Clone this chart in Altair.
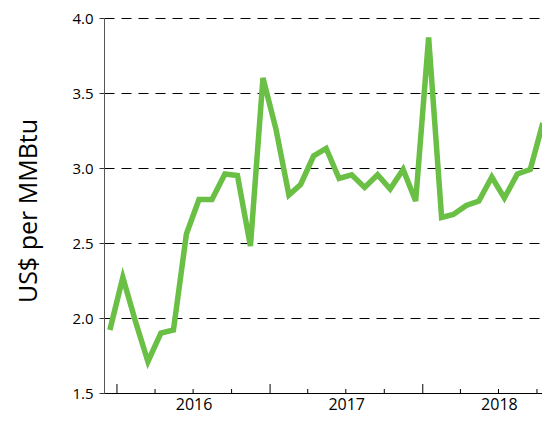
import altair as alt
import pandas as pd

months = [
    "2015-12", "2016-01", "2016-02", "2016-03", "2016-04", "2016-05", "2016-06",
    "2016-07", "2016-08", "2016-09", "2016-10", "2016-11", "2016-12",
    "2017-01", "2017-02", "2017-03", "2017-04", "2017-05", "2017-06",
    "2017-07", "2017-08", "2017-09", "2017-10", "2017-11", "2017-12",
    "2018-01", "2018-02", "2018-03", "2018-04", "2018-05", "2018-06",
    "2018-07", "2018-08", "2018-09", "2018-10",
]
prices = [
    1.92, 2.27, 1.97, 1.71, 1.90, 1.92, 2.56, 2.79, 2.79, 2.96, 2.95, 2.48, 3.60,
    3.26, 2.82, 2.89, 3.08, 3.13, 2.93, 2.955, 2.87, 2.955, 2.86, 2.99, 2.78,
    3.87, 2.67, 2.69, 2.75, 2.78, 2.94, 2.80, 2.96, 2.99, 3.30,
]
major_ticks = ["2016-01-01", "2017-01-01", "2018-01-01"]
minor_ticks = ["2016-04-01", "2016-07-01", "2016-10-01", "2017-04-01", "2017-07-01",
               "2017-10-01", "2018-04-01", "2018-07-01", "2018-10-01"]
year_labels = [2016, 2017, 2018]
y_ticks = [1.5, 2.0, 2.5, 3.0, 3.5, 4.0]

W, H = 438, 375
FONT = "Open Sans"

df = pd.DataFrame({"date": [m.replace("-", "/") + "/15" for m in months], "price": prices})
ticks_df = pd.DataFrame(
    {"date": [d.replace("-", "/") for d in major_ticks + minor_ticks],
     "len": [9] * len(major_ticks) + [4] * len(minor_ticks)}
)

x_scale = alt.Scale(domain=[alt.DateTime(year=2015, month=12, date=1),
                            alt.DateTime(year=2018, month=10, date=13)], nice=False)
y_scale = alt.Scale(domain=[1.5, 4.0], nice=False, zero=False)

line = alt.Chart(df).mark_line(
    color="#6abf45", strokeWidth=5.5, strokeJoin="miter", strokeMiterLimit=4, clip=False
).encode(
    x=alt.X("date:T", scale=x_scale, title=None,
            axis=alt.Axis(values=[alt.DateTime(year=y, month=7, date=2) for y in year_labels],
                          format="%Y", ticks=False, grid=False, domainColor="#000000",
                          domainWidth=1, labelFont=FONT, labelFontSize=16,
                          labelColor="#000000", labelPadding=3)),
    y=alt.Y("price:Q", scale=y_scale, title="US$ per MMBtu",
            axis=alt.Axis(values=y_ticks, format=".1f", tickSize=5, tickColor="#333333",
                          domainColor="#555555", labelFont=FONT, labelFontSize=15,
                          labelColor="#000000", labelPadding=6,
                          grid=True, gridColor="#000000", gridDash=[10, 7], gridWidth=1,
                          titleFont=FONT, titleFontSize=25, titleFontWeight="normal",
                          titleColor="#000000", titleAngle=270, titleAlign="center",
                          titleBaseline="bottom", titleX=-63, titleY=H / 2 + 5)),
)

xticks = alt.Chart(ticks_df).transform_calculate(
    top=f"{H} - datum.len"
).mark_rule(color="#000000", strokeWidth=1).encode(
    x=alt.X("date:T", scale=x_scale),
    y=alt.Y("top:Q", scale=alt.Scale(domain=[0, H], range=[0, H]), axis=None),
    y2=alt.value(H),
)

chart = alt.layer(line, xticks).resolve_scale(y="independent").properties(
    width=W, height=H,
    autosize=alt.AutoSizeParams(type="none"),
    padding={"left": 96, "top": 10, "right": 0, "bottom": 20},
).configure_view(stroke=None)

chart.save("out.html", embed_options={"renderer": "svg", "actions": False})
